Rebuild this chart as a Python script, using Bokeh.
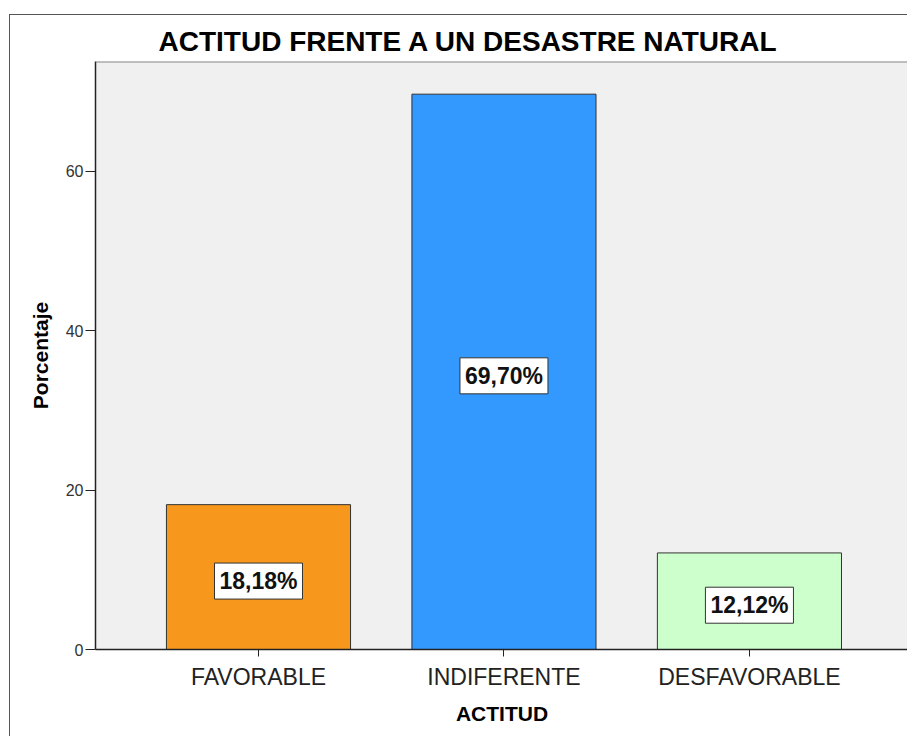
from bokeh.plotting import figure
from bokeh.models import ColumnDataSource, FixedTicker, Range1d, Span
from bokeh.core.properties import value
from bokeh.embed import file_html
from bokeh.resources import INLINE

# ---- data ----
categories = ["FAVORABLE", "INDIFERENTE", "DESFAVORABLE"]
percentages = [18.18, 69.70, 12.12]
bar_colors = ["#F7981D", "#3399FF", "#CCFFCC"]
y_ticks = [0, 20, 40, 60]
title_text = "ACTITUD FRENTE A UN DESASTRE NATURAL"
x_label = "ACTITUD"
y_label = "Porcentaje"

xs = list(range(len(categories)))
labels = [f"{v:.2f}".replace(".", ",") + "%" for v in percentages]
src = ColumnDataSource(dict(
    x=xs, top=percentages, color=bar_colors,
    mid=[v / 2 for v in percentages], label=labels,
))

FONT = "Liberation Sans"
Y_MAX = 73.8

p = figure(
    width=898, height=722,
    x_range=Range1d(-0.664, 2.648), y_range=Range1d(0, Y_MAX),
    output_backend="svg", toolbar_location=None,
    min_border_left=85, min_border_top=46, min_border_bottom=88, min_border_right=0,
)
p.styles = {"margin-top": "14px", "margin-left": "9px",
            "border-top": "1px solid #555", "border-left": "1px solid #555"}

p.title.text = title_text
p.title.text_font = FONT
p.title.text_font_size = "28px"
p.title.text_font_style = "bold"
p.title.text_color = "#000000"
p.title.align = "left"
p.title.offset = 63

p.background_fill_color = "#F0F0F0"
p.border_fill_color = "white"
p.outline_line_color = None
p.xgrid.visible = False
p.ygrid.visible = False

p.add_layout(Span(location=Y_MAX, dimension="width",
                  line_color="#888888", line_width=2))

p.vbar(x="x", top="top", bottom=0, width=0.75, source=src,
       fill_color="color", line_color="#333333", line_width=1)

p.text(x="x", y="mid", text="label", source=src,
       text_align="center", text_baseline="middle", y_offset=4,
       text_font=value(FONT), text_font_style="bold", text_font_size="23px",
       text_color="#111111",
       background_fill_color="white", border_line_color="#333333",
       border_line_width=1, padding=5)

# y axis
p.yaxis.ticker = FixedTicker(ticks=y_ticks)
p.yaxis.minor_tick_line_color = None
p.yaxis.major_tick_in = 0
p.yaxis.major_tick_out = 10
p.yaxis.major_tick_line_color = "#222222"
p.yaxis.axis_line_color = "#222222"
p.yaxis.axis_line_width = 1.5
p.yaxis.major_label_text_font = FONT
p.yaxis.major_label_text_font_size = "16px"
p.yaxis.major_label_text_color = "#333333"
p.yaxis.major_label_standoff = 2
p.yaxis.axis_label = y_label
p.yaxis.axis_label_text_font = FONT
p.yaxis.axis_label_text_font_size = "21px"
p.yaxis.axis_label_text_font_style = "bold"
p.yaxis.axis_label_text_color = "#000000"
p.yaxis.axis_label_standoff = 11

# x axis
p.xaxis.ticker = FixedTicker(ticks=xs)
p.xaxis.major_label_overrides = {i: c for i, c in zip(xs, categories)}
p.xaxis.minor_tick_line_color = None
p.xaxis.major_tick_in = 0
p.xaxis.major_tick_out = 7
p.xaxis.major_tick_line_color = "#222222"
p.xaxis.axis_line_color = "#222222"
p.xaxis.axis_line_width = 1.5
p.xaxis.major_label_text_font = FONT
p.xaxis.major_label_text_font_size = "23px"
p.xaxis.major_label_text_color = "#222222"
p.xaxis.major_label_standoff = 7
p.xaxis.axis_label = x_label
p.xaxis.axis_label_text_font = FONT
p.xaxis.axis_label_text_font_size = "21px"
p.xaxis.axis_label_text_font_style = "bold"
p.xaxis.axis_label_text_color = "#000000"
p.xaxis.axis_label_standoff = 9

open("out.html", "w").write(file_html(p, INLINE))
